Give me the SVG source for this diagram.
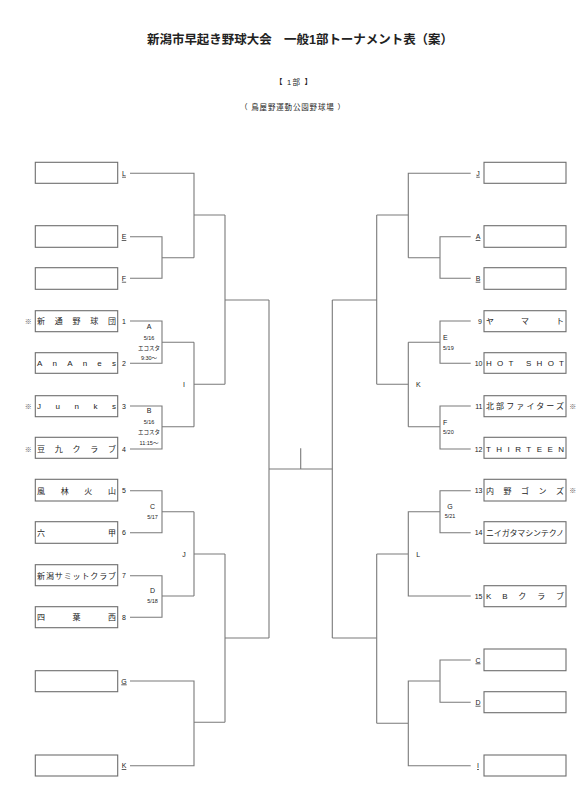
<svg xmlns="http://www.w3.org/2000/svg" width="587" height="800" viewBox="0 0 587 800">
<style>
text{font-family:"Liberation Sans","Noto Sans CJK JP",sans-serif;fill:#222}
.box{fill:#fff;stroke:#6e6e6e;stroke-width:1.1}
.ln{fill:none;stroke:#7a7a7a;stroke-width:1.1}
.tm{font-size:8px}
.no{font-size:7px;text-anchor:middle}
.nr{font-size:7px;text-anchor:end}
.lt{font-size:7px;text-anchor:middle;text-decoration:underline}
.mk{font-size:7px;text-anchor:middle;fill:#555}
.mt{font-size:7px;text-anchor:middle}
.md{font-size:5.5px;text-anchor:middle}
.ml{font-size:7px}
.mdl{font-size:5.5px}
</style>
<rect width="587" height="800" fill="#fff"/>
<g id="title">
<text x="147" y="44" font-size="12.5" font-weight="bold" textLength="306" lengthAdjust="spacingAndGlyphs">新潟市早起き野球大会　一般1部トーナメント表（案）</text>
<text x="275" y="85" font-size="7.5" textLength="37" lengthAdjust="spacing">【  1部  】</text>
<text x="240" y="110" font-size="7.5" textLength="105" lengthAdjust="spacing">（  鳥屋野運動公園野球場  ）</text>
</g>
<g id="connectors" class="ln">
<path d="M130,173.3H194V257.7M130,236.7H162V278.3H130M162,257.7H194M194,215H225"/>
<path d="M130,321H162V363.3H130M162,342.3H194M130,406H162V449H130M162,426.7H194M194,342.3V426.7M194,384.3H225M225,215V384.3M225,300H269"/>
<path d="M130,490.7H162V532.7H130M162,511.7H194M130,575.7H162V617.3H130M162,596H194M194,511.7V596M194,554H225"/>
<path d="M130,681H194V765.7H130M194,722.3H225M225,554V722.3M225,638H269M269,300V638M269,469H332.3M300.7,448.3V469"/>
<path d="M332.3,300V638M332.3,300H376.7M332.3,638H376.7M376.7,215V384.3M376.7,215H408.3M376.7,384.3H408.3"/>
<path d="M470.7,173.3H408.3V257.7M470.7,236.7H440V278.3H470.7M440,257.7H408.3"/>
<path d="M470.7,321H440V363.3H470.7M440,342.3H408.3M470.7,406H440V449H470.7M440,426.7H408.3M408.3,342.3V426.7"/>
<path d="M376.7,554V723.3M376.7,554H408.3M470.7,490.7H440V532.7H470.7M440,511.7H408.3V596H470.7"/>
<path d="M470.7,660H440V702.3H470.7M440,681H408.3V765.7H470.7M376.7,723.3H408.3"/>
</g>
<g id="match-labels">
<text class="mt" x="149" y="329">A</text>
<text class="md" x="149" y="340">5/16</text>
<text class="md" x="149" y="350">エコスタ</text>
<text class="md" x="149" y="360">9:30～</text>
<text class="mt" x="149" y="412.5">B</text>
<text class="md" x="149" y="423.5">5/16</text>
<text class="md" x="149" y="433.5">エコスタ</text>
<text class="md" x="149" y="444.5">11:15～</text>
<text class="mt" x="152.5" y="509">C</text>
<text class="md" x="152.5" y="519">5/17</text>
<text class="mt" x="152.5" y="592.5">D</text>
<text class="md" x="152.5" y="602.5">5/18</text>
<text class="mt" x="184" y="387">I</text>
<text class="mt" x="184" y="556.5">J</text>
<text class="ml" x="443" y="340">E</text>
<text class="mdl" x="443" y="350">5/19</text>
<text class="ml" x="443" y="424.5">F</text>
<text class="mdl" x="443" y="434">5/20</text>
<text class="mt" x="450" y="508.5">G</text>
<text class="md" x="450" y="518">5/21</text>
<text class="mt" x="418.3" y="387">K</text>
<text class="mt" x="418.3" y="556.5">L</text>
</g>
<g id="node-L"><rect class="box" x="35.3" y="162.3" width="82.4" height="21"/><text class="lt" x="124" y="175.8">L</text></g>
<g id="node-E"><rect class="box" x="35.3" y="225.7" width="82.4" height="21.6"/><text class="lt" x="124" y="239.2">E</text></g>
<g id="node-F"><rect class="box" x="35.3" y="267.7" width="82.4" height="21.6"/><text class="lt" x="124" y="280.8">F</text></g>
<g id="node-1"><rect class="box" x="35.3" y="310.7" width="82.4" height="21"/><text class="tm" x="37" y="324" textLength="79" lengthAdjust="spacing">新通野球団</text><text class="no" x="124" y="323.5">1</text><text class="mk" x="28.3" y="323.5">※</text></g>
<g id="node-2"><rect class="box" x="35.3" y="352.7" width="82.4" height="20.6"/><text class="tm" x="37" y="366" textLength="79" lengthAdjust="spacing">AnAnes</text><text class="no" x="124" y="365.8">2</text></g>
<g id="node-3"><rect class="box" x="35.3" y="395.7" width="82.4" height="21"/><text class="tm" x="37" y="409" textLength="79" lengthAdjust="spacing">Junks</text><text class="no" x="124" y="408.5">3</text><text class="mk" x="28.3" y="408.5">※</text></g>
<g id="node-4"><rect class="box" x="35.3" y="437.3" width="82.4" height="21"/><text class="tm" x="37" y="451.5" textLength="79" lengthAdjust="spacing">豆九クラブ</text><text class="no" x="124" y="451.5">4</text><text class="mk" x="28.3" y="451.5">※</text></g>
<g id="node-5"><rect class="box" x="35.3" y="479.3" width="82.4" height="21.7"/><text class="tm" x="37" y="493.5" textLength="79" lengthAdjust="spacing">風林火山</text><text class="no" x="124" y="493.2">5</text></g>
<g id="node-6"><rect class="box" x="35.3" y="521.7" width="82.4" height="21.6"/><text class="tm" x="37" y="535.5" textLength="79" lengthAdjust="spacing">六甲</text><text class="no" x="124" y="535.2">6</text></g>
<g id="node-7"><rect class="box" x="35.3" y="564.7" width="82.4" height="21"/><text class="tm" x="37" y="578.5" textLength="79" lengthAdjust="spacing">新潟サミットクラブ</text><text class="no" x="124" y="578.2">7</text></g>
<g id="node-8"><rect class="box" x="35.3" y="606.7" width="82.4" height="21"/><text class="tm" x="37" y="620" textLength="79" lengthAdjust="spacing">四葉西</text><text class="no" x="124" y="619.8">8</text></g>
<g id="node-G"><rect class="box" x="35.3" y="670.7" width="82.4" height="21"/><text class="lt" x="124" y="683.5">G</text></g>
<g id="node-K"><rect class="box" x="35.3" y="755" width="82.4" height="21"/><text class="lt" x="124" y="768.2">K</text></g>
<g id="node-J"><rect class="box" x="484" y="162.3" width="82" height="21"/><text class="lt" x="478" y="175.8">J</text></g>
<g id="node-A"><rect class="box" x="484" y="225.7" width="82" height="21.6"/><text class="lt" x="478" y="239.2">A</text></g>
<g id="node-B"><rect class="box" x="484" y="267.7" width="82" height="21.6"/><text class="lt" x="478" y="280.8">B</text></g>
<g id="node-9"><rect class="box" x="484" y="310.7" width="82" height="21"/><text class="tm" x="486" y="324" textLength="78" lengthAdjust="spacing">ヤマト</text><text class="nr" x="482" y="323.5">9</text></g>
<g id="node-10"><rect class="box" x="484" y="352.7" width="82" height="20.6"/><text class="tm" x="486" y="366" textLength="78" lengthAdjust="spacing">HOT SHOT</text><text class="nr" x="482.5" y="365.8">10</text></g>
<g id="node-11"><rect class="box" x="484" y="395.7" width="82" height="21"/><text class="tm" x="486" y="409" textLength="78" lengthAdjust="spacing">北部ファイターズ</text><text class="nr" x="482.5" y="408.5">11</text><text class="mk" x="572.7" y="408.5">※</text></g>
<g id="node-12"><rect class="box" x="484" y="437.3" width="82" height="21"/><text class="tm" x="486" y="451.5" textLength="78" lengthAdjust="spacing">THIRTEEN</text><text class="nr" x="482.5" y="451.5">12</text></g>
<g id="node-13"><rect class="box" x="484" y="479.3" width="82" height="21.7"/><text class="tm" x="486" y="493.5" textLength="78" lengthAdjust="spacing">内野ゴンズ</text><text class="nr" x="482.5" y="493.2">13</text><text class="mk" x="572.7" y="493.2">※</text></g>
<g id="node-14"><rect class="box" x="484" y="521.7" width="82" height="21.6"/><text class="tm" x="486" y="535.5" textLength="78" lengthAdjust="spacing">ニイガタマシンテクノ</text><text class="nr" x="482.5" y="535.2">14</text></g>
<g id="node-15"><rect class="box" x="484" y="585.7" width="82" height="21"/><text class="tm" x="486" y="599" textLength="78" lengthAdjust="spacing">KBクラブ</text><text class="nr" x="482.5" y="598.5">15</text></g>
<g id="node-C"><rect class="box" x="484" y="649" width="82" height="21.7"/><text class="lt" x="478" y="662.5">C</text></g>
<g id="node-D"><rect class="box" x="484" y="691.7" width="82" height="21"/><text class="lt" x="478" y="704.8">D</text></g>
<g id="node-I"><rect class="box" x="484" y="755" width="82" height="21"/><text class="lt" x="478" y="768.2">I</text></g>
</svg>
